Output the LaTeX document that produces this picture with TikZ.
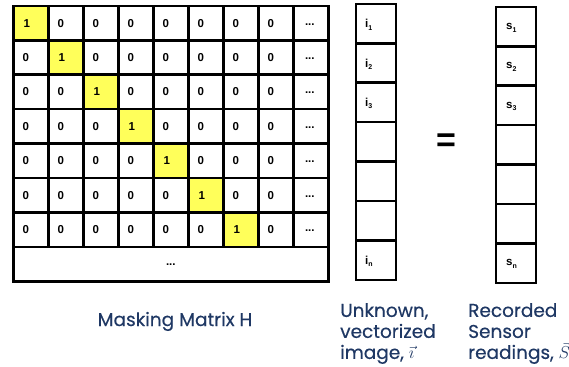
\documentclass[tikz,border=0pt]{standalone}
\usepackage{fontspec}
\setmainfont{Liberation Sans}
\newfontfamily\labelfont[FakeBold=0.4]{Poppins}
\definecolor{diagyellow}{RGB}{255,255,90}
\definecolor{labelnavy}{RGB}{31,56,100}
\newcommand{\lowsub}[1]{\raisebox{-2.5pt}{\fontsize{7}{7}\selectfont #1}}
\tikzset{
  cellbox/.style={draw=black, line width=2.6pt, minimum width=35pt, minimum height=34.4pt,
    inner sep=0pt, fill=white},
  onecell/.style={cellbox, fill=diagyellow},
  celltext/.style={font=\bfseries\fontsize{11.5}{12}\selectfont},
  vecbox/.style={draw=black, line width=2.6pt, minimum width=40pt, minimum height=39.4pt,
    inner sep=0pt, fill=white},
  captext/.style={font=\labelfont\fontsize{18.5}{21}\selectfont, text=labelnavy,
    align=left, inner sep=0pt},
}
\begin{document}
\begin{tikzpicture}[x=1pt, y=-1pt]
\useasboundingbox (0,0) rectangle (569,366);
% masking matrix: 7 rows x 9 columns plus a merged bottom row
\foreach \r in {1,...,7}{
  \foreach \c in {1,...,9}{
    \pgfmathsetmacro{\cx}{13.3+35*(\c-1)+17.5}
    \pgfmathsetmacro{\cy}{6+34.4*(\r-1)+17.2}
    \ifnum\c=\r
      \node[onecell] (m-\r-\c) at (\cx,\cy) {};
      \node[celltext, anchor=west] at ([xshift=8pt]m-\r-\c.west) {1};
    \else\ifnum\c=9
      \node[cellbox] (m-\r-\c) at (\cx,\cy) {};
      \node[celltext] at ([xshift=-1pt,yshift=-1pt]m-\r-\c.center) {...};
    \else
      \node[cellbox] (m-\r-\c) at (\cx,\cy) {};
      \node[celltext, anchor=west] at ([xshift=7pt]m-\r-\c.west) {0};
    \fi\fi
  }
}
\pgfmathsetmacro{\lastx}{13.3+157.5}
\pgfmathsetmacro{\lasty}{6+34.4*7+17.2}
\node[cellbox, minimum width=315pt] (mlast) at (\lastx,\lasty) {};
\node[celltext] at ([yshift=-1pt]mlast.center) {...};

% unknown image vector and sensor readings vector
\foreach \r/\sub in {1/1,2/2,3/3,4/,5/,6/,7/n}{
  \pgfmathsetmacro{\iy}{4+39.4*(\r-1)+19.7}
  \pgfmathsetmacro{\sy}{7+39.4*(\r-1)+19.7}
  \node[vecbox] (iv-\r) at (376,\iy) {};
  \node[vecbox] (sv-\r) at (516,\sy) {};
  \ifx\sub\empty\else
    \node[celltext, anchor=west] at ([xshift=7pt,yshift=-1pt]iv-\r.west) {i\lowsub{\sub}};
    \node[celltext, anchor=west] at ([xshift=8pt,yshift=-1pt]sv-\r.west) {s\lowsub{\sub}};
  \fi
}
% equals sign
\node[font=\bfseries\fontsize{34}{34}\selectfont] (eq) at (446,143) {=};

% captions
\node[captext, anchor=base] (capH) at (175,326) {Masking Matrix H};
\node[captext, anchor=north west] (capI) at (340,303) {Unknown,\\vectorized\\image, $\vec{\imath}$};
\node[captext, anchor=north west] (capS) at (468,303) {Recorded\\Sensor\\readings, $\vec{S}$};
\end{tikzpicture}
\end{document}
